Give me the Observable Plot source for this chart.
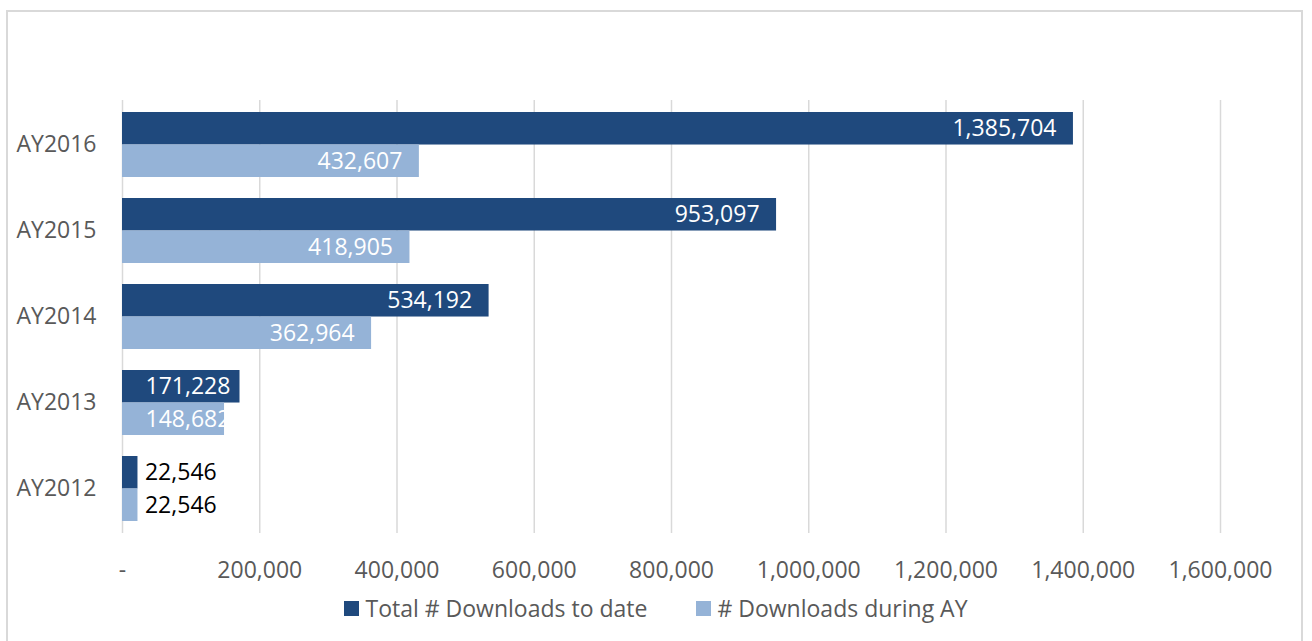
<!DOCTYPE html>
<html>
<head>
<meta charset="utf-8">
<script src="https://cdn.jsdelivr.net/npm/d3@7"></script>
<script src="https://cdn.jsdelivr.net/npm/@observablehq/plot@0.6"></script>
<style>
  html, body { margin: 0; padding: 0; background: #ffffff; width: 1312px; height: 641px; overflow: hidden; }
  #frame { position: absolute; left: 6px; top: 10px; width: 1297px; height: 700px; border: 2px solid #d9d9d9; box-sizing: border-box; }
  #chart { position: absolute; left: 0; top: 0; }
  #legend { position: absolute; left: 0; top: 592px; width: 1312px; display: flex; justify-content: center; align-items: center;
            font-family: "Open Sans", sans-serif; font-size: 23px; color: #595959; }
  .item { display: flex; align-items: center; }
  .sw { width: 15px; height: 15px; margin-right: 6px; }
</style>
</head>
<body>
<div id="frame"></div>
<div id="chart"></div>
<div id="legend"></div>
<script>
const categories = ["AY2016", "AY2015", "AY2014", "AY2013", "AY2012"];
const totalToDate = [1385704, 953097, 534192, 171228, 22546];
const duringAY = [432607, 418905, 362964, 148682, 22546];
const xTicks = [0, 200000, 400000, 600000, 800000, 1000000, 1200000, 1400000, 1600000];
const seriesNames = ["Total # Downloads to date", "# Downloads during AY"];
const seriesColors = ["#1F497D", "#95B3D7"];

const rows = categories.map((c, i) => ({year: c, total: totalToDate[i], during: duringAY[i]}));
const fmt = d3.format(",");

const W = 1312, H = 590, mt = 100, mb = 57;
const step = (H - mt - mb) / 5;
const band = step * 0.75;
const half = band / 2;

function labelMarks(key, dy) {
  return [
    Plot.text(rows.filter(d => d[key] >= 250000), {y: "year", x: key, text: d => fmt(d[key]), textAnchor: "end", dx: -17, dy, fill: "white"}),
    Plot.text(rows.filter(d => d[key] >= 100000 && d[key] < 250000), {y: "year", x: () => 0, text: d => fmt(d[key]), textAnchor: "start", dx: 23, dy, fill: "white"}),
    Plot.text(rows.filter(d => d[key] < 100000), {y: "year", x: key, text: d => fmt(d[key]), textAnchor: "start", dx: 7, dy, fill: "black"})
  ];
}

const chart = Plot.plot({
  width: W, height: H,
  marginLeft: 122, marginRight: 92, marginTop: mt, marginBottom: mb,
  style: {fontFamily: "Open Sans, sans-serif", fontSize: "23px", color: "#595959", background: "transparent", overflow: "visible"},
  x: {domain: [0, 1600000], ticks: xTicks, tickFormat: d => d === 0 ? "-" : fmt(d), tickSize: 0, tickPadding: 28, label: null},
  y: {domain: categories, paddingInner: 0.25, paddingOuter: 0.125, tickSize: 0, tickPadding: 26, label: null},
  marks: [
    Plot.gridX(xTicks, {stroke: "#d9d9d9", strokeOpacity: 1, strokeWidth: 1.5}),
    Plot.barX(rows, {y: "year", x: "total", fill: seriesColors[0], insetBottom: half}),
    Plot.barX(rows, {y: "year", x: "during", fill: seriesColors[1], insetTop: half}),
    ...labelMarks("total", -half / 2),
    ...labelMarks("during", half / 2)
  ]
});
document.getElementById("chart").appendChild(chart);

const legend = document.getElementById("legend");
seriesNames.forEach((name, i) => {
  const item = document.createElement("div");
  item.className = "item";
  if (i > 0) item.style.marginLeft = "49px";
  const sw = document.createElement("div");
  sw.className = "sw";
  sw.style.background = seriesColors[i];
  const t = document.createElement("span");
  t.textContent = name;
  item.appendChild(sw);
  item.appendChild(t);
  legend.appendChild(item);
});
</script>
</body>
</html>
